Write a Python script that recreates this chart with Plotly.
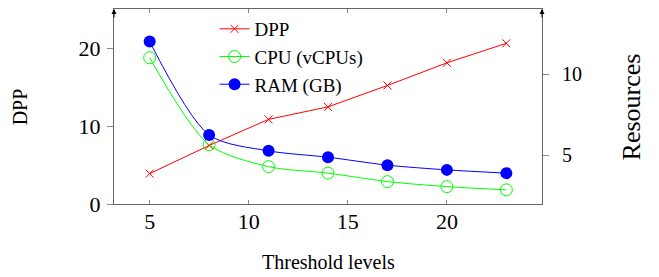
import plotly.graph_objects as go

thresholds = [5, 8, 11, 14, 17, 20, 23]
dpp = [3.9, 7.5, 10.85, 12.45, 15.2, 18.1, 20.6]
cpu = [11.0, 5.65, 4.3, 3.9, 3.38, 3.07, 2.87]
ram = [12.0, 6.25, 5.27, 4.88, 4.39, 4.1, 3.9]

x_ticks = [5, 10, 15, 20]
left_ticks = [0, 10, 20]
right_ticks = [5, 10]

FONT = "Liberation Serif, Times New Roman, Times, serif"
AX = "#666666"
TK = "#888888"

fig = go.Figure()
fig.add_trace(go.Scatter(x=thresholds, y=dpp, name="DPP", mode="lines+markers", legendgroup="a",
                         line=dict(color="#ff0000", width=1),
                         marker=dict(symbol="x-thin-open", size=8, line=dict(color="#ff0000", width=1))))
fig.add_trace(go.Scatter(x=thresholds, y=cpu, name="CPU (vCPUs)", mode="lines+markers", yaxis="y2", legendgroup="b",
                         line=dict(color="#00ff00", width=1, shape="spline", smoothing=0.8),
                         marker=dict(symbol="circle-open", size=12, color="#00ff00", line=dict(color="#00ff00", width=1))))
fig.add_trace(go.Scatter(x=thresholds, y=ram, name="RAM (GB)", mode="lines+markers", yaxis="y2", legendgroup="c",
                         line=dict(color="#0000ff", width=1, shape="spline", smoothing=0.8),
                         marker=dict(symbol="circle", size=12, color="#0000ff")))

fig.update_layout(
    width=659, height=277,
    margin=dict(l=114, r=117, t=9, b=73),
    paper_bgcolor="white", plot_bgcolor="white",
    font=dict(family=FONT, color="black"),
    showlegend=True,
    legend=dict(x=0.235, y=0.995, xanchor="left", yanchor="top", bgcolor="rgba(0,0,0,0)",
                font=dict(family=FONT, size=19), borderwidth=0, tracegroupgap=0),
    xaxis=dict(range=[3.2, 24.8], tickvals=x_ticks, ticks="inside", ticklen=4, tickcolor=TK,
               showline=True, linecolor=AX, linewidth=1, mirror="ticks", showgrid=False, zeroline=False,
               tickfont=dict(family=FONT, size=22), ticklabelstandoff=-2),
    yaxis=dict(range=[0, 25], tickvals=left_ticks, ticks="outside", ticklen=6, tickcolor=TK,
               showline=True, linecolor=AX, linewidth=1, showgrid=False, zeroline=False,
               tickfont=dict(family=FONT, size=22), ticklabelstandoff=2),
    yaxis3=dict(range=[0, 25], tickvals=left_ticks, ticks="inside", ticklen=6, tickcolor=TK,
                overlaying="y", side="left", showticklabels=False, showline=False, showgrid=False, zeroline=False),
    yaxis2=dict(range=[2, 14], tickvals=right_ticks, ticks="outside", ticklen=6, tickcolor=TK,
                overlaying="y", side="right", showline=True, linecolor=AX, linewidth=1,
                showgrid=False, zeroline=False, tickfont=dict(family=FONT, size=20), ticklabelstandoff=9),
    yaxis4=dict(range=[2, 14], tickvals=right_ticks, ticks="inside", ticklen=6, tickcolor=TK,
                overlaying="y", side="right", showticklabels=False, showline=False, showgrid=False, zeroline=False),
)

fig.add_annotation(x=0.502, y=-0.295, xref="paper", yref="paper", text="Threshold levels", showarrow=False,
                   font=dict(family=FONT, size=20), xanchor="center", yanchor="middle")
fig.add_annotation(x=-0.22, y=0.5, xref="paper", yref="paper", text="DPP", showarrow=False, textangle=-90,
                   font=dict(family=FONT, size=20), xanchor="center", yanchor="middle")
fig.add_annotation(x=1.21, y=0.5, xref="paper", yref="paper", text="Resources", showarrow=False, textangle=-90,
                   font=dict(family=FONT, size=26), xanchor="center", yanchor="middle")
for xp in (0, 1):
    fig.add_annotation(x=xp, y=1, xref="paper", yref="paper", ax=0, ay=10, showarrow=True,
                       arrowhead=2, arrowsize=1, arrowwidth=1, arrowcolor="black", text="")

fig.write_html("out.html", config={"displayModeBar": False},
               post_script="document.body.style.margin='0';document.body.style.overflow='hidden';")
